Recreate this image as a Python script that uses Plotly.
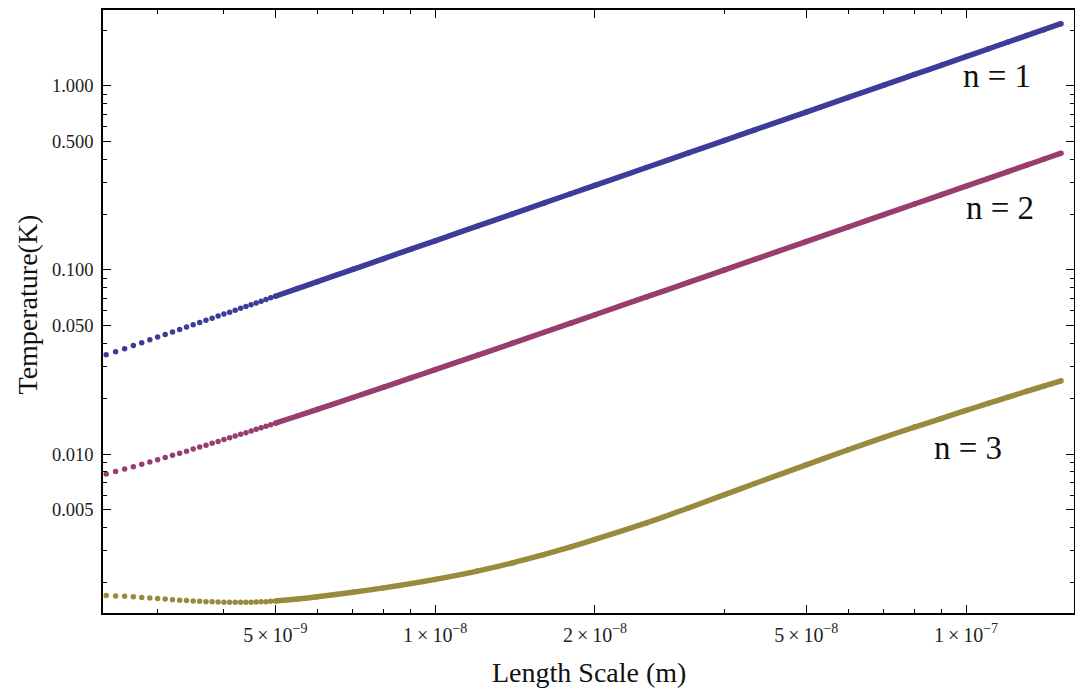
import plotly.graph_objects as go

# Length scale (nm) at which the temperatures are read
X_NM = [2.4, 2.5, 2.6, 2.7, 2.8, 2.9, 3.0, 3.1, 3.2, 3.3, 3.4, 3.5, 3.6, 3.7, 3.8, 3.9,
        4.0, 4.1, 4.2, 4.3, 4.4, 4.5, 4.6, 4.7, 4.8, 4.9, 5.0, 5.5, 6, 7, 8, 9, 10, 12,
        14, 16, 18, 20, 25, 30, 35, 40, 50, 60, 70, 80, 90, 100, 110, 120, 130, 140, 151]

T_N1 = [0.0346, 0.0360, 0.0374, 0.0389, 0.0403, 0.0418, 0.0432, 0.0446, 0.0461, 0.0475,
        0.0490, 0.0504, 0.0518, 0.0533, 0.0547, 0.0562, 0.0576, 0.0590, 0.0605, 0.0619,
        0.0634, 0.0648, 0.0662, 0.0677, 0.0691, 0.0706, 0.0720, 0.0792, 0.0864, 0.1008,
        0.1152, 0.1296, 0.144, 0.1728, 0.2016, 0.2304, 0.2592, 0.288, 0.36, 0.432, 0.504,
        0.576, 0.72, 0.864, 1.008, 1.152, 1.296, 1.44, 1.584, 1.728, 1.872, 2.016, 2.174]

T_N2 = [0.00779, 0.00804, 0.00830, 0.00855, 0.00881, 0.00907, 0.00933, 0.00959, 0.00985,
        0.01012, 0.01038, 0.01065, 0.01092, 0.01119, 0.01145, 0.01172, 0.01199, 0.01227,
        0.01254, 0.01281, 0.01308, 0.01336, 0.01363, 0.01390, 0.01418, 0.01445, 0.01473,
        0.01611, 0.01750, 0.02030, 0.02310, 0.02592, 0.02874, 0.03440, 0.04007, 0.04575,
        0.05144, 0.05712, 0.07135, 0.08558, 0.09982, 0.11406, 0.14255, 0.17104, 0.19953,
        0.22803, 0.25653, 0.28502, 0.3135, 0.342, 0.3705, 0.399, 0.4304]

T_N3 = [0.00171, 0.00170, 0.00169, 0.00168, 0.001667, 0.001656, 0.001644, 0.001633,
        0.001622, 0.001611, 0.001603, 0.001596, 0.001589, 0.001581, 0.001578, 0.001574,
        0.00157, 0.00157, 0.00157, 0.00157, 0.00157, 0.00157, 0.001574, 0.001578, 0.001581,
        0.001589, 0.001596, 0.001634, 0.001680, 0.001779, 0.001879, 0.001982, 0.002089,
        0.002318, 0.002570, 0.002844, 0.003136, 0.003441, 0.00423, 0.00510, 0.00601,
        0.00693, 0.00875, 0.01056, 0.01233, 0.01403, 0.01563, 0.01726, 0.01884, 0.02039,
        0.02193, 0.02339, 0.0250]

SERIES_NAMES = ["n = 1", "n = 2", "n = 3"]
SERIES_COLORS = ["#3D3D99", "#993D71", "#998B3D"]

X_MAJOR = [5e-9, 1e-8, 2e-8, 5e-8, 1e-7]
X_MAJOR_TEXT = ["5\u2009\u00d7\u200910<sup>\u22129</sup>",
                "1\u2009\u00d7\u200910<sup>\u22128</sup>",
                "2\u2009\u00d7\u200910<sup>\u22128</sup>",
                "5\u2009\u00d7\u200910<sup>\u22128</sup>",
                "1\u2009\u00d7\u200910<sup>\u22127</sup>"]
X_MINOR = [3e-9, 4e-9, 6e-9, 7e-9, 8e-9, 9e-9, 3.5e-8, 6e-8, 7e-8, 8e-8, 9e-8]

Y_MAJOR = [1.0, 0.5, 0.1, 0.05, 0.01, 0.005]
Y_MAJOR_TEXT = ["1.000", "0.500", "0.100", "0.050", "0.010", "0.005"]
Y_MINOR = [2.0, 0.9, 0.8, 0.7, 0.6, 0.4, 0.3, 0.2, 0.09, 0.08, 0.07, 0.06, 0.04, 0.03,
           0.02, 0.009, 0.008, 0.007, 0.006, 0.004, 0.003, 0.002]

x_m = [v * 1e-9 for v in X_NM]
dense_end = X_NM.index(5.0)

fig = go.Figure()
for name, ys, col in zip(SERIES_NAMES, [T_N1, T_N2, T_N3], SERIES_COLORS):
    fig.add_trace(go.Scatter(x=x_m, y=ys, mode="markers", name=name,
                             marker=dict(size=5.5, color=col), showlegend=False,
                             hoverinfo="skip"))
    fig.add_trace(go.Scatter(x=x_m[dense_end:], y=ys[dense_end:], mode="lines",
                             name=name, line=dict(width=5.5, color=col, shape="spline",
                                                  smoothing=0.6),
                             showlegend=False, hoverinfo="skip"))

FONT = "Liberation Serif, Times New Roman, serif"
axis_common = dict(type="log", showgrid=False, zeroline=False, showline=True,
                   automargin=False,
                   linecolor="black", linewidth=1.5, mirror="ticks", ticks="inside",
                   ticklen=8, tickwidth=1.3, tickcolor="black")

fig.update_xaxes(range=[-8.6258, -6.7966], tickmode="array", tickvals=X_MAJOR,
                 ticktext=X_MAJOR_TEXT, ticklabelstandoff=3,
                 tickfont=dict(family=FONT, size=20, color="#222"),
                 minor=dict(tickmode="array", tickvals=X_MINOR, ticks="inside",
                            ticklen=4, tickwidth=1.2, tickcolor="black", showgrid=False),
                 **axis_common)
fig.update_yaxes(range=[-2.8625, 0.4114], tickmode="array", tickvals=Y_MAJOR,
                 ticktext=Y_MAJOR_TEXT, ticklabelstandoff=4,
                 tickfont=dict(family=FONT, size=18.5, color="#222"),
                 minor=dict(tickmode="array", tickvals=Y_MINOR, ticks="inside",
                            ticklen=4, tickwidth=1.2, tickcolor="black", showgrid=False),
                 **axis_common)

annots = [
    dict(text="Length Scale (m)", x=0.5, y=0, xref="paper", yref="paper",
         yshift=-59, showarrow=False, xanchor="center", yanchor="middle",
         font=dict(family=FONT, size=28, color="#111")),
    dict(text="Temperature(K)", x=0, y=0.5, xref="paper", yref="paper",
         xshift=-76, yshift=7, showarrow=False, xanchor="center", yanchor="middle",
         textangle=-90, font=dict(family=FONT, size=28, color="#111")),
]
label_pos = [(0.9207, 0.8905), (0.9238, 0.6716), (0.8908, 0.2736)]
for name, (px, py) in zip(SERIES_NAMES, label_pos):
    annots.append(dict(text=name, x=px, y=py, xref="paper", yref="paper",
                       showarrow=False, xanchor="center", yanchor="middle",
                       font=dict(family=FONT, size=33, color="#111")))

fig.update_layout(width=1075, height=693, margin=dict(l=103, r=1, t=10, b=80),
                  paper_bgcolor="white", plot_bgcolor="white", annotations=annots)

fig.write_html("out.html", config={"responsive": False, "displayModeBar": False},
               post_script="document.body.style.margin='0';"
                           "document.body.style.overflow='hidden';")
